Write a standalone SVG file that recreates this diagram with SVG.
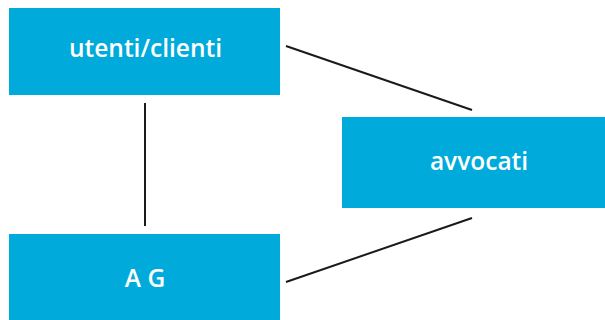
<svg xmlns="http://www.w3.org/2000/svg" width="605" height="320" viewBox="0 0 605 320">
<style>
.box{fill:#00ABDC}
.lbl{fill:#fff;font-family:"Open Sans","DejaVu Sans",sans-serif;font-weight:600;font-size:24.5px;text-anchor:middle}
.edge{stroke:#1a1a1a;stroke-width:2;fill:none}
</style>
<rect width="605" height="320" fill="#fff"/>
<g id="connectors">
<line class="edge" x1="145" y1="103" x2="145" y2="226"/>
<line class="edge" x1="286" y1="46" x2="472" y2="110"/>
<line class="edge" x1="286" y1="282" x2="472" y2="218"/>
</g>
<g id="utenti">
<rect class="box" x="9" y="8" width="271" height="87"/>
<text class="lbl" x="145.5" y="57">utenti/clienti</text>
</g>
<g id="avvocati">
<rect class="box" x="342" y="117" width="263" height="91"/>
<text class="lbl" x="479" y="170">avvocati</text>
</g>
<g id="ag">
<rect class="box" x="9" y="234" width="271" height="86"/>
<text class="lbl" x="145" y="287">A G</text>
</g>
</svg>
